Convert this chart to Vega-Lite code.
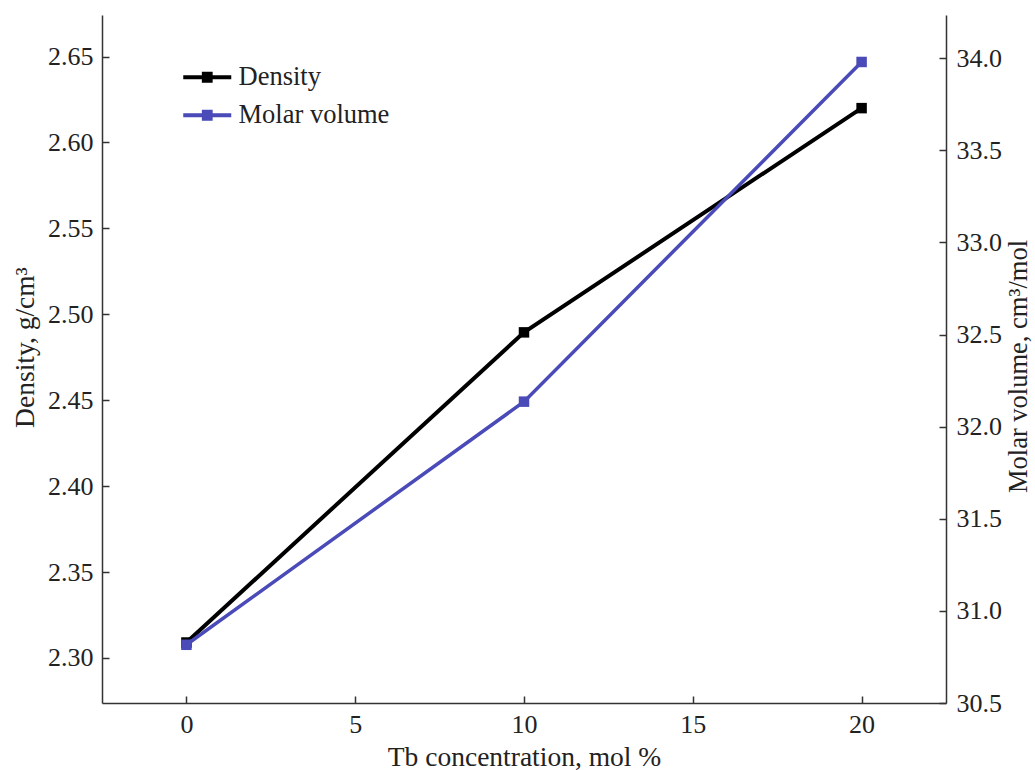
{
  "$schema": "https://vega.github.io/schema/vega-lite/v6.json",
  "width": 844,
  "height": 688,
  "autosize": "none",
  "padding": {"left": 102, "top": 15, "right": 89, "bottom": 67},
  "background": "white",
  "data": {
    "values": [
      {"x": 0, "series": "Density", "value": 2.309},
      {"x": 10, "series": "Density", "value": 2.4895},
      {"x": 20, "series": "Density", "value": 2.62},
      {"x": 0, "series": "Molar volume", "value": 30.816},
      {"x": 10, "series": "Molar volume", "value": 32.136},
      {"x": 20, "series": "Molar volume", "value": 33.98}
    ]
  },
  "encoding": {
    "x": {
      "field": "x",
      "type": "quantitative",
      "scale": {"domain": [-2.5, 22.5], "nice": false, "zero": false},
      "axis": {"title": "Tb concentration, mol %", "values": [0, 5, 10, 15, 20], "labelPadding": 15, "titlePadding": 6}
    }
  },
  "layer": [
    {
      "transform": [{"filter": "datum.series === 'Density'"}],
      "encoding": {
        "y": {
          "field": "value",
          "type": "quantitative",
          "scale": {"domain": [2.2738, 2.6742], "nice": false, "zero": false},
          "axis": {"orient": "left", "title": "Density, g/cm³", "values": [2.3, 2.35, 2.4, 2.45, 2.5, 2.55, 2.6, 2.65], "format": ".2f", "labelPadding": 16, "titlePadding": 8, "titleY": 332}
        }
      },
      "layer": [
        {"mark": {"type": "line", "color": "#000000", "strokeWidth": 4}},
        {
          "mark": {"type": "point", "shape": "square", "filled": true, "size": 110, "opacity": 1},
          "encoding": {
            "color": {
              "field": "series",
              "type": "nominal",
              "scale": {"domain": ["Density", "Molar volume"], "range": ["#000000", "#4a4ab8"]},
              "legend": {
                "orient": "none",
                "legendX": 92,
                "legendY": 49,
                "title": null,
                "padding": 0,
                "symbolType": "M-2,-0.17H2V0.17H-2Z M-0.45,-0.45H0.45V0.45H-0.45Z",
                "symbolSize": 576,
                "symbolStrokeWidth": 0,
                "rowPadding": 11,
                "labelOffset": 18
              }
            }
          }
        }
      ]
    },
    {
      "transform": [{"filter": "datum.series === 'Molar volume'"}],
      "encoding": {
        "y": {
          "field": "value",
          "type": "quantitative",
          "scale": {"domain": [30.5, 34.235], "nice": false, "zero": false},
          "axis": {"orient": "right", "title": "Molar volume, cm³/mol", "values": [30.5, 31, 31.5, 32, 32.5, 33, 33.5, 34], "format": ".1f", "labelPadding": 17, "titlePadding": 4, "titleFontSize": 26.5, "titleAngle": 270, "titleBaseline": "top", "titleY": 351}
        }
      },
      "layer": [
        {"mark": {"type": "line", "color": "#4a4ab8", "strokeWidth": 3.5}},
        {
          "mark": {"type": "point", "shape": "square", "filled": true, "size": 110, "opacity": 1},
          "encoding": {
            "color": {
              "field": "series",
              "type": "nominal",
              "scale": {"domain": ["Density", "Molar volume"], "range": ["#000000", "#4a4ab8"]},
              "legend": {
                "orient": "none",
                "legendX": 92,
                "legendY": 49,
                "title": null,
                "padding": 0,
                "symbolType": "M-2,-0.17H2V0.17H-2Z M-0.45,-0.45H0.45V0.45H-0.45Z",
                "symbolSize": 576,
                "symbolStrokeWidth": 0,
                "rowPadding": 11,
                "labelOffset": 18
              }
            }
          }
        }
      ]
    }
  ],
  "resolve": {"scale": {"y": "independent"}},
  "config": {
    "view": {"stroke": null},
    "axis": {
      "grid": false,
      "domainColor": "#333333",
      "domainWidth": 1.5,
      "tickColor": "#333333",
      "tickWidth": 1.5,
      "tickSize": -7,
      "labelFont": "Liberation Serif",
      "labelFontSize": 26,
      "labelColor": "#222222",
      "titleFont": "Liberation Serif",
      "titleFontSize": 27.5,
      "titleFontWeight": "normal",
      "titleColor": "#222222"
    },
    "legend": {
      "labelFont": "Liberation Serif",
      "labelFontSize": 26.5,
      "labelColor": "#222222"
    }
  }
}
